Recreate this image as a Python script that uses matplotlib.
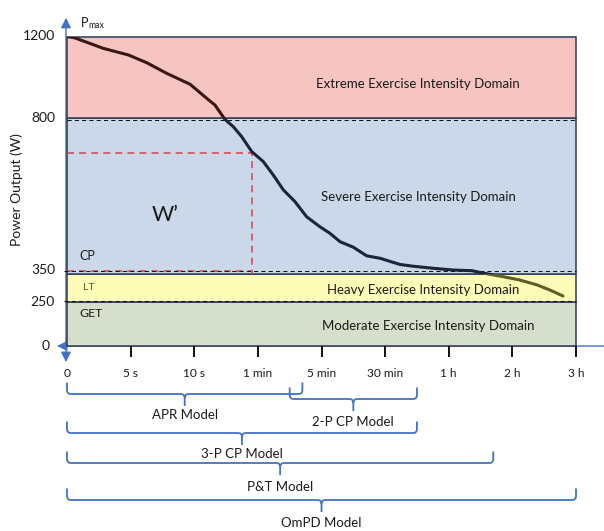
import numpy as np
import matplotlib
matplotlib.use("Agg")
import matplotlib.pyplot as plt
import matplotlib.transforms as mtransforms
from matplotlib.patches import Rectangle, PathPatch
from matplotlib.path import Path

plt.rcParams["font.family"] = ["Lato", "DejaVu Sans"]

# ---------------- data ----------------
time_labels = ["0", "5 s", "10 s", "1 min", "5 min", "30 min", "1 h", "2 h", "3 h"]
time_positions = np.arange(len(time_labels))

power_levels = [0, 250, 350, 800, 1200]
power_labels = ["0", "250", "350", "800", "1200"]

domain_names = ["Moderate Exercise Intensity Domain",
                "Heavy Exercise Intensity Domain",
                "Severe Exercise Intensity Domain",
                "Extreme Exercise Intensity Domain"]
domain_lower = [0, 250, 350, 800]
domain_upper = [250, 350, 800, 1200]

# power-duration curve (x in time-axis units, y in W)
curve_t = [0.0, 0.126, 0.571, 0.963, 1.253, 1.567, 1.933, 2.196, 2.326, 2.483,
           2.614, 2.746, 2.903, 3.085, 3.242, 3.400, 3.583, 3.767, 3.977, 4.134,
           4.291, 4.500, 4.710, 4.919, 5.234, 5.438, 5.752, 6.067, 6.365, 6.491,
           6.648, 6.853, 7.120, 7.387, 7.591, 7.796]
curve_p = [1200, 1193, 1142, 1110, 1072, 1020, 967, 898, 865, 797,
           776, 747, 704, 675, 636, 593, 559, 515, 486, 467,
           443, 427, 402, 395, 377, 372, 366, 361, 359, 354,
           348, 340, 328, 311, 293, 272]

cp_power = 350
w_prime_power = 700
w_prime_time = 2.9
threshold_power = [800, 350, 250]

model_names = ["APR Model", "2-P CP Model", "3-P CP Model", "P&T Model", "OmPD Model"]
model_start = [0.0, 3.5, 0.0, 0.0, 0.0]
model_end = [3.7, 5.5, 5.5, 6.7, 8.0]

# ---------------- styling ----------------
domain_colors = ["#d6dfcb", "#fefdb7", "#cbd8ea", "#f6c5c1"]
curve_colors = ["#2a2a1a", "#5f5e24", "#1b2438", "#3a1616"]
edge_color = "#2c3a57"
axis_blue = "#4472c4"
wprime_red = "#d4474c"
text_color = "#1a1a1a"

W_PX, H_PX = 604, 531
fig = plt.figure(figsize=(W_PX / 100, H_PX / 100), dpi=100)

# main panel
ax = fig.add_axes([67 / W_PX, (H_PX - 346) / H_PX, 509 / W_PX, (346 - 36.5) / H_PX])
ax.patch.set_visible(False)

# schematic (piecewise linear) power axis
rows = np.array([346, 302.3, 273.8, 118.4, 36.5])


def fwd(p):
    return -np.interp(p, power_levels, rows)


def inv(v):
    return np.interp(v, -rows, power_levels)


ax.set_yscale("function", functions=(fwd, inv))
ax.set_xlim(0, len(time_labels) - 1)
ax.set_ylim(0, 1200)
for s in ax.spines.values():
    s.set_visible(False)


def shifted(dx_px, dy_px):
    return ax.transData + mtransforms.ScaledTranslation(dx_px / 100, dy_px / 100,
                                                        fig.dpi_scale_trans)


# intensity domain boxes
xmax = len(time_labels) - 1
boxes = []
for lo, hi, c in zip(domain_lower, domain_upper, domain_colors):
    r = Rectangle((0, lo), xmax, hi - lo, facecolor=c, edgecolor=edge_color,
                  lw=1.1, zorder=1, clip_on=False)
    ax.add_patch(r)
    boxes.append(r)

# power-duration curve, tinted by the domain it runs through
for r, c in zip(boxes, curve_colors):
    ln, = ax.plot(curve_t, curve_p, color=c, lw=2.2, zorder=3,
                  solid_capstyle="round", solid_joinstyle="round")
    ln.set_clip_path(r)

# threshold dashed lines
thr_shift = {800: -1.6, 350: 3.2, 250: 1.5}
thr_start = {800: 0.0, 350: -0.05, 250: -0.05}
for p in threshold_power:
    ax.plot([thr_start[p], xmax], [p, p], color="#111111", lw=0.75,
            ls=(0, (4, 3)), zorder=2.6, clip_on=False,
            transform=shifted(0, thr_shift[p]))

# W' rectangle
ax.plot([0, w_prime_time, w_prime_time], [w_prime_power, w_prime_power, cp_power],
        color=wprime_red, lw=1.1, ls=(0, (4.6, 3.3)), zorder=2.5)
ax.plot([0, w_prime_time], [cp_power, cp_power], color=wprime_red, lw=1.1,
        ls=(0, (4.6, 3.3)), zorder=2.5, transform=shifted(0, thr_shift[cp_power]))

# labels inside the panel
dom_fs = 9.5
ax.text(5.52, 968, domain_names[3], ha="center", va="center", fontsize=dom_fs, color=text_color, zorder=4)
ax.text(5.52, 572, domain_names[2], ha="center", va="center", fontsize=dom_fs, color=text_color, zorder=4)
ax.text(5.60, 293, domain_names[1], ha="center", va="center", fontsize=dom_fs, color=text_color, zorder=4)
ax.text(5.68, 115, domain_names[0], ha="center", va="center", fontsize=dom_fs, color=text_color, zorder=4)
ax.text(1.54, 520, "W\u2019", ha="center", va="center", fontsize=15.5, color=text_color, zorder=4)
ax.text(0.19, 401, "CP", ha="left", va="center", fontsize=9, color=text_color, zorder=4)
ax.text(0.25, 301, "LT", ha="left", va="center", fontsize=7.5, color="#5c5a30", zorder=4)
ax.text(0.19, 184, "GET", ha="left", va="center", fontsize=8.8, color=text_color, zorder=4)

# power tick labels
ax.set_yticks([])
lab_dy = {0: 0, 250: 0, 350: 4.3, 800: 0, 1200: 0}
lab_dx = {0: -17, 250: -12, 350: -12, 800: -12, 1200: -12}
for p, lab in zip(power_levels, power_labels):
    ax.annotate(lab, xy=(0, p), xycoords="data",
                xytext=(lab_dx[p] * 0.72, lab_dy[p] * 0.72), textcoords="offset points",
                ha="right", va="center", fontsize=10, color=text_color,
                annotation_clip=False)

# time ticks
ax.set_xticks(time_positions, time_labels)
ax.tick_params(axis="x", length=8, width=1.4, color="#111111", pad=7.5,
               labelsize=8.6, labelcolor=text_color)
ax.xaxis.get_major_ticks()[0].tick1line.set_visible(False)

# blue axis arrows
ax.annotate("", xy=(-0.002, 1.0605), xycoords="axes fraction",
            xytext=(-0.002, -0.052), textcoords="axes fraction",
            arrowprops=dict(arrowstyle="<|-|>,head_length=0.6,head_width=0.3",
                            color=axis_blue, lw=1.0, shrinkA=0, shrinkB=0,
                            mutation_scale=10),
            zorder=0.5, annotation_clip=False)
ax.annotate("", xy=(-0.0196, 0), xycoords="axes fraction",
            xytext=(1.07, 0), textcoords="axes fraction",
            arrowprops=dict(arrowstyle="-|>,head_length=0.6,head_width=0.3",
                            color=axis_blue, lw=1.0, shrinkA=0, shrinkB=0,
                            mutation_scale=10),
            zorder=0.5, annotation_clip=False)

# axis titles
fig.text(17 / W_PX, 1 - 190 / H_PX, "Power Output (W)", rotation=90,
         ha="center", va="center", fontsize=10, color=text_color)
fig.text(81 / W_PX, 1 - 22.7 / H_PX, "P", ha="left", va="center",
         fontsize=9, color=text_color)
fig.text(88.5 / W_PX, 1 - 25.5 / H_PX, "max", ha="left", va="center",
         fontsize=6.3, color=text_color)

# model range braces below the time axis
bx = fig.add_axes([67 / W_PX, 0, 509 / W_PX, 1])
bx.set_xlim(0, xmax)
bx.set_ylim(H_PX, 0)
bx.axis("off")

brace_rows = [394, 399, 433, 463, 500]
label_rows = [415, 422, 454, 487, 523]
rise, drop, rad = 11.5, 12.0, 4.0
rx = rad * xmax / 509.0


def brace(x0, x1, yh):
    xm = 0.5 * (x0 + x1)
    verts, codes = [], []
    for xe, sgn in ((x0, 1), (x1, -1)):
        verts += [(xe, yh - rise), (xe, yh - rad), (xe, yh), (xe + sgn * rx, yh),
                  (xm - sgn * rx, yh), (xm, yh), (xm, yh + rad)]
        codes += [Path.MOVETO, Path.LINETO, Path.CURVE3, Path.CURVE3,
                  Path.LINETO, Path.CURVE3, Path.CURVE3]
    verts += [(xm, yh + rad), (xm, yh + drop)]
    codes += [Path.MOVETO, Path.LINETO]
    bx.add_patch(PathPatch(Path(verts, codes), facecolor="none",
                           edgecolor=axis_blue, lw=1.3, clip_on=False))
    return xm


for name, s, e, yb, yl in zip(model_names, model_start, model_end, brace_rows, label_rows):
    xm = brace(s, e, yb)
    bx.text(xm, yl, name, ha="center", va="center", fontsize=9.5,
            color=text_color, clip_on=False)

fig.savefig("out.png", dpi=100)
